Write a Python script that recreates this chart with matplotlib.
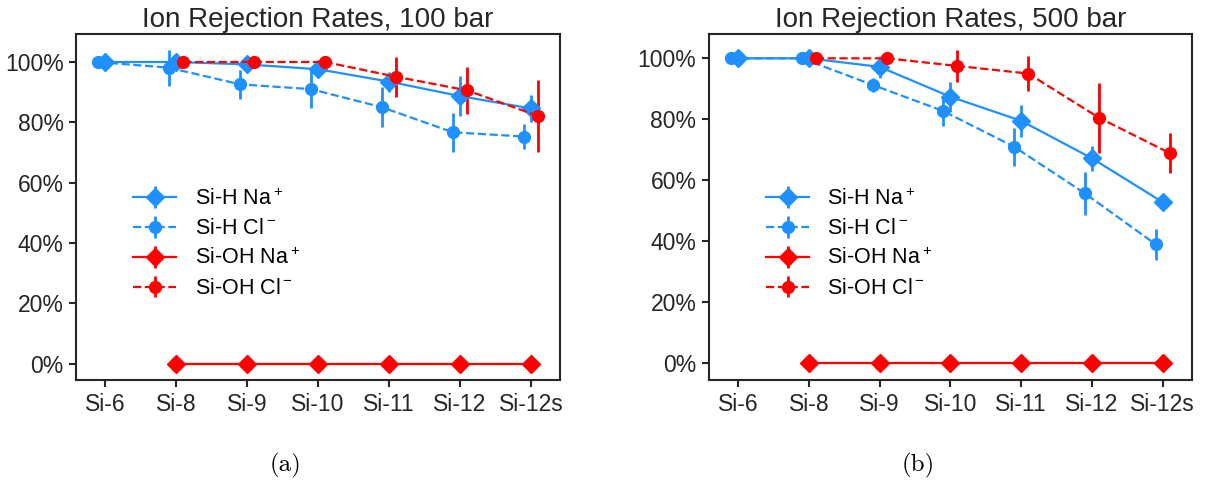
import numpy as np
import matplotlib
matplotlib.use("Agg")
import matplotlib.pyplot as plt
from matplotlib.ticker import PercentFormatter

plt.rcParams['font.family'] = ['Liberation Sans', 'DejaVu Sans']
plt.rcParams['mathtext.fontset'] = 'dejavusans'
plt.rcParams['mathtext.default'] = 'regular'

membranes = ['Si-6', 'Si-8', 'Si-9', 'Si-10', 'Si-11', 'Si-12', 'Si-12s']

# 100 bar, rejection in %, with error (+/-)
h_na_100 = [100, 100, 99.2, 97.6, 93.5, 88.7, 84.6]
h_na_100_err = [0.5, 1.0, 1.5, 2.0, 3.3, 6.6, 4.4]
h_cl_100 = [100, 98.1, 92.6, 91.0, 85.0, 76.7, 75.3]
h_cl_100_err = [0.5, 6.0, 4.7, 6.3, 6.6, 6.5, 4.1]
oh_na_100 = [np.nan, 0, 0, 0, 0, 0, 0]
oh_na_100_err = [np.nan, 0, 0, 0, 0, 0, 0]
oh_cl_100 = [np.nan, 100, 100, 100, 95.1, 90.6, 82.1]
oh_cl_100_err = [np.nan, 0.3, 0.3, 0.5, 6.6, 7.7, 11.8]

# 500 bar
h_na_500 = [100, 100, 97.2, 87.4, 79.5, 67.2, 52.8]
h_na_500_err = [0.3, 0.3, 3.5, 4.9, 5.2, 4.1, 1.0]
h_cl_500 = [100, 100, 91.3, 82.7, 71.0, 55.7, 39.0]
h_cl_500_err = [0.3, 0.3, 2.3, 4.9, 6.2, 7.1, 5.1]
oh_na_500 = [np.nan, 0, 0, 0, 0, 0, 0]
oh_na_500_err = [np.nan, 0, 0, 0, 0, 0, 0]
oh_cl_500 = [np.nan, 100, 100, 97.5, 95.0, 80.5, 68.9]
oh_cl_500_err = [np.nan, 0.3, 0.5, 5.3, 5.7, 11.4, 6.6]

labels = ['Si-H Na$^+$', 'Si-H Cl$^-$', 'Si-OH Na$^+$', 'Si-OH Cl$^-$']
blue = '#1e90ff'
red = '#ff0000'
dark = '#262626'

fig = plt.figure(figsize=(12.07, 4.82), dpi=100)
ax1 = fig.add_axes([0.063, 0.2116, 0.401, 0.718])
ax2 = fig.add_axes([0.5874, 0.2116, 0.400, 0.718])

x = np.arange(len(membranes))


def draw(ax, series, title, ylim):
    # colour, linestyle, marker, dodge offset, marker size
    styles = [(blue, '-', 'D', 0.0, 9),
              (blue, '--', 'o', -0.1, 8.5),
              (red, '-', 'D', 0.0, 9),
              (red, '--', 'o', 0.1, 8.5)]
    for (vals, err), (c, ls, m, off, ms), lab in zip(series, styles, labels):
        ax.errorbar(x + off, vals, yerr=err, color=c, ls=ls, marker=m,
                    ms=ms, lw=1.6, elinewidth=2, capsize=0, label=lab)
    ax.set_xlim(-0.41, 6.41)
    ax.set_ylim(*ylim)
    ax.set_xticks(x)
    ax.set_xticklabels(membranes)
    ax.set_yticks([0, 20, 40, 60, 80, 100])
    ax.yaxis.set_major_formatter(PercentFormatter(100, decimals=0))
    ax.tick_params(labelsize=16.5, colors=dark, length=5, width=1.5, pad=4)
    for s in ax.spines.values():
        s.set_color(dark)
        s.set_linewidth(1.5)
    ax.set_title(title, fontsize=20, color=dark, pad=5)
    ax.legend(loc='center left', bbox_to_anchor=(0.078, 0.394), frameon=False,
              fontsize=15.5, handlelength=2.0, handletextpad=0.85,
              labelspacing=0.4, borderpad=0.4)


draw(ax1, [(h_na_100, h_na_100_err), (h_cl_100, h_cl_100_err),
           (oh_na_100, oh_na_100_err), (oh_cl_100, oh_cl_100_err)],
     'Ion Rejection Rates, 100 bar', (-5.4, 109.3))
draw(ax2, [(h_na_500, h_na_500_err), (h_cl_500, h_cl_500_err),
           (oh_na_500, oh_na_500_err), (oh_cl_500, oh_cl_500_err)],
     'Ion Rejection Rates, 500 bar', (-5.5, 108))

fig.text(285 / 1207, 1 - 465 / 482, '(a)', family='cmr10', fontsize=18,
         ha='center', va='center')
fig.text(918 / 1207, 1 - 465 / 482, '(b)', family='cmr10', fontsize=18,
         ha='center', va='center')

fig.savefig('out.png', dpi=100)
